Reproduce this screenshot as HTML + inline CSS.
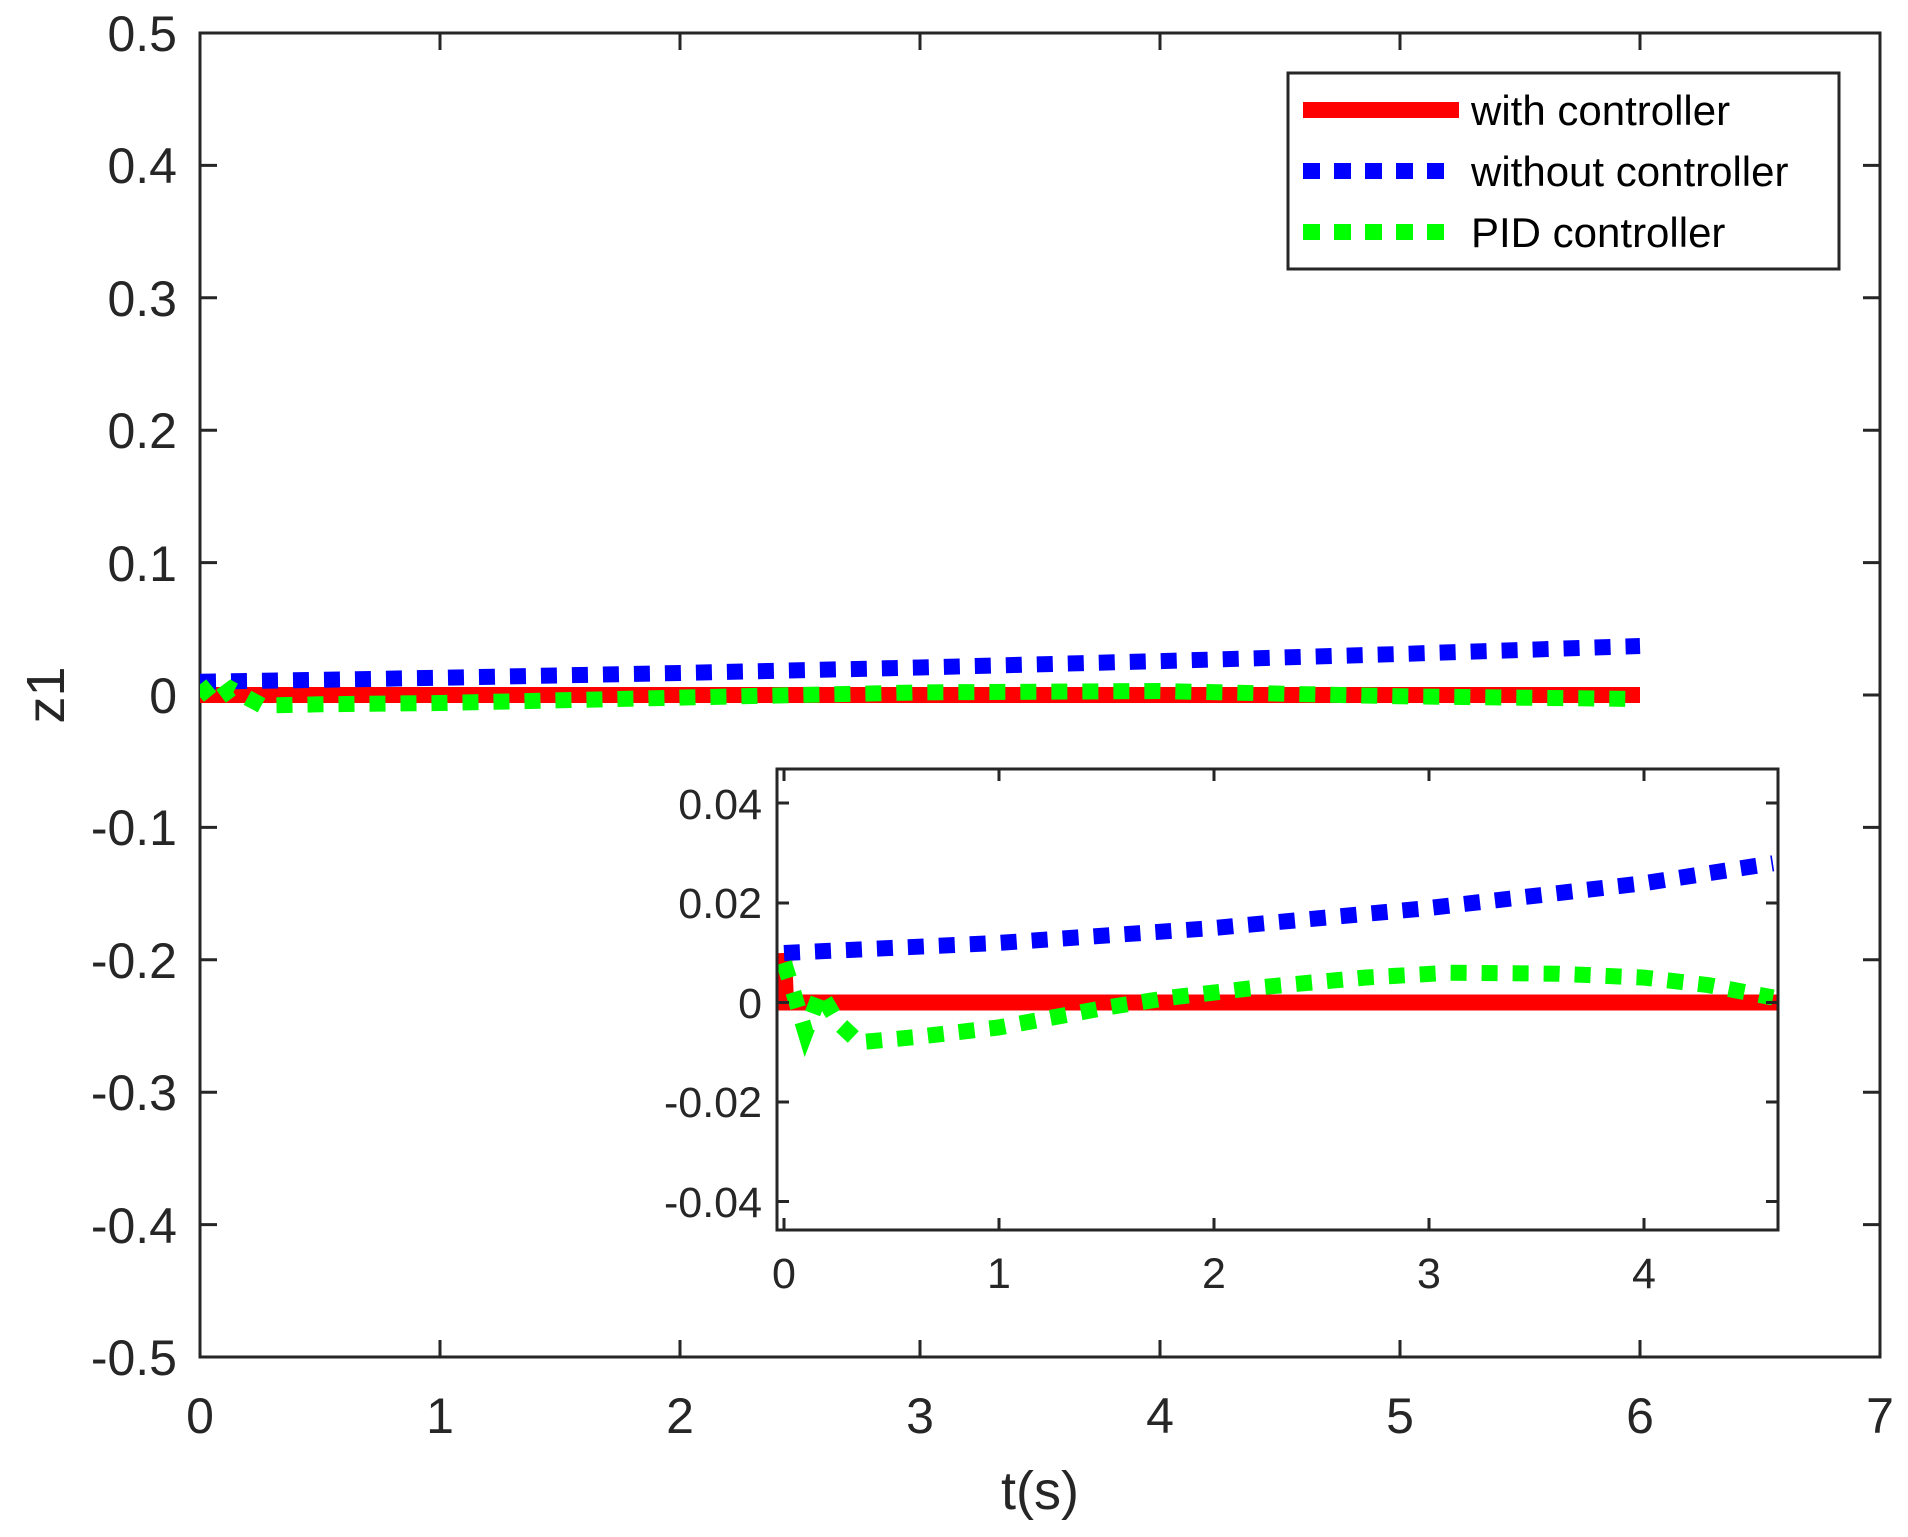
<!DOCTYPE html>
<html><head><meta charset="utf-8"><style>
html,body{margin:0;padding:0;background:#fff}
svg{display:block}
text{font-family:"Liberation Sans",Arial,sans-serif;fill:#262626}
</style></head><body>
<svg width="1908" height="1537" viewBox="0 0 1908 1537" xmlns="http://www.w3.org/2000/svg">
<defs>
<clipPath id="mc"><rect x="200" y="33" width="1680" height="1324"/></clipPath>
<clipPath id="ic"><rect x="777" y="769" width="1001" height="461"/></clipPath>
</defs>
<g stroke="#262626" stroke-width="3" fill="none">
<rect x="200" y="33" width="1680" height="1324"/>
<path d="M440,1357v-17M680,1357v-17M920,1357v-17M1160,1357v-17M1400,1357v-17M1640,1357v-17
M440,33v17M680,33v17M920,33v17M1160,33v17M1400,33v17M1640,33v17
M200,165.4h17M200,297.8h17M200,430.2h17M200,562.6h17M200,695h17M200,827.4h17M200,959.8h17M200,1092.2h17M200,1224.6h17
M1880,165.4h-17M1880,297.8h-17M1880,430.2h-17M1880,562.6h-17M1880,695h-17M1880,827.4h-17M1880,959.8h-17M1880,1092.2h-17M1880,1224.6h-17"/>
</g>
<g font-size="50" text-anchor="end">
<text x="177" y="51">0.5</text>
<text x="177" y="183">0.4</text>
<text x="177" y="316">0.3</text>
<text x="177" y="448">0.2</text>
<text x="177" y="581">0.1</text>
<text x="177" y="713">0</text>
<text x="177" y="845">-0.1</text>
<text x="177" y="978">-0.2</text>
<text x="177" y="1110">-0.3</text>
<text x="177" y="1243">-0.4</text>
<text x="177" y="1375">-0.5</text>
</g>
<g font-size="50" text-anchor="middle">
<text x="200" y="1433">0</text><text x="440" y="1433">1</text><text x="680" y="1433">2</text><text x="920" y="1433">3</text><text x="1160" y="1433">4</text><text x="1400" y="1433">5</text><text x="1640" y="1433">6</text><text x="1880" y="1433">7</text>
</g>
<text x="1040" y="1509" font-size="54" text-anchor="middle">t(s)</text>
<text transform="translate(64,695) rotate(-90)" font-size="54" text-anchor="middle">z1</text>
<g clip-path="url(#mc)" fill="none" stroke-width="16">
<path d="M200,682 L205,695 L1640,695" stroke="#ff0000"/>
<path d="M200,681.8 L440,677.8 L680,673 L920,667.5 L1160,661.1 L1400,654 L1640,646" stroke="#0000ff" stroke-dasharray="16 15"/>
<path d="M200,684.4 L214,701.6 L231,689 L262,705.6 L320,704.3 L440,703 L680,697.6 L920,692.4 L1160,691 L1400,696.3 L1640,699" stroke="#00ff00" stroke-dasharray="16 15"/>
</g>
<rect x="1288" y="73" width="551" height="196" fill="#fff" stroke="#262626" stroke-width="3"/>
<path d="M1303,110H1459" stroke="#ff0000" stroke-width="16"/>
<path d="M1303,171H1449" stroke="#0000ff" stroke-width="16" stroke-dasharray="17 14"/>
<path d="M1303,232H1449" stroke="#00ff00" stroke-width="16" stroke-dasharray="17 14"/>
<g font-size="42"><text x="1471" y="125" style="fill:#000">with controller</text><text x="1471" y="186" style="fill:#000">without controller</text><text x="1471" y="247" style="fill:#000">PID controller</text></g>
<rect x="777" y="769" width="1001" height="461" fill="#fff"/>
<g clip-path="url(#ic)" fill="none" stroke-width="16">
<path d="M784,953 L786,1002.5 L1778,1002.5" stroke="#ff0000"/>
<path d="M784,953 L999,942.9 L1214,928 L1429,908 L1644,883.2 L1773,863.3" stroke="#0000ff" stroke-dasharray="16 15"/>
<path d="M784,962.7 L795,997.5 L805.5,1032.3 L820.5,992.6 L837.8,1022.4 L859,1042.3 L913,1037.3 L999,1027.4 L1106.5,1007.5 L1171,997.5 L1257,987.6 L1364.5,977.6 L1450.5,972.7 L1558,973.7 L1644,977.6 L1708.5,985.1 L1773,997.5" stroke="#00ff00" stroke-dasharray="16 15"/>
</g>
<g stroke="#262626" stroke-width="3" fill="none">
<rect x="777" y="769" width="1001" height="461"/>
<path d="M784,1230v-12M999,1230v-12M1214,1230v-12M1429,1230v-12M1644,1230v-12
M784,769v12M999,769v12M1214,769v12M1429,769v12M1644,769v12
M777,803h12M777,903h12M777,1002.5h12M777,1102h12M777,1201.5h12
M1778,803h-12M1778,903h-12M1778,1002.5h-12M1778,1102h-12M1778,1201.5h-12"/>
</g>
<g font-size="43" text-anchor="end">
<text x="762" y="819">0.04</text>
<text x="762" y="918">0.02</text>
<text x="762" y="1018">0</text>
<text x="762" y="1117">-0.02</text>
<text x="762" y="1217">-0.04</text>
</g>
<g font-size="43" text-anchor="middle">
<text x="784" y="1288">0</text><text x="999" y="1288">1</text><text x="1214" y="1288">2</text><text x="1429" y="1288">3</text><text x="1644" y="1288">4</text>
</g>
</svg>
</body></html>
